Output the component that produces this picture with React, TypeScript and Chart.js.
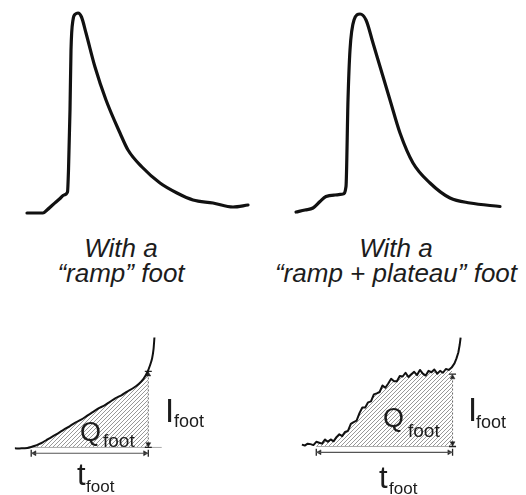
import React, { useEffect, useRef } from "react";
import { Chart, registerables } from "chart.js";

Chart.register(...registerables);

// ---- Amperometric spikes (time in ms, current in pA) ----
const rampSpikeTime = [0, 1.6, 2.0, 2.5, 2.9, 3.3, 3.7, 4.05, 4.15, 4.3, 4.4, 4.6, 4.85, 5.1, 5.45, 5.9, 6.8, 7.9, 9.3, 10.1, 11.5, 13.3, 15, 16.6, 18.6, 20.6, 22.1];
const rampSpikeCurrent = [0, 0, 0.6, 1.5, 2.2, 2.9, 3.6, 4.2, 8.6, 20.6, 32.6, 38.6, 39.8, 40, 39.2, 36, 29.2, 22.6, 16, 12.6, 9.2, 6, 4, 2.6, 2, 1.2, 1.6];

const plateauSpikeTime = [0, 0.9, 1.7, 2.4, 3.0, 3.9, 4.7, 5.0, 5.2, 5.4, 5.8, 6.4, 7.0, 7.7, 8.4, 9.4, 10.4, 11.7, 13.4, 15.4, 17.4, 20.4];
const plateauSpikeCurrent = [0, 0.4, 0.8, 2.1, 3.1, 3.4, 3.6, 5.1, 22.4, 32.4, 38.4, 39.6, 38.4, 33.8, 29.1, 22.4, 15.8, 9.8, 5.8, 2.8, 1.8, 1.1];

// ---- Foot close-ups (time in ms, current in pA) ----
const rampFootTime = [-0.85, -0.5, -0.2, 0, 0.2, 0.4, 0.6, 0.85, 1.1, 1.4, 1.7, 2.0, 2.3, 2.6, 2.9, 3.2, 3.5, 3.8, 4.1, 4.4, 4.7, 5.0, 5.3, 5.6, 5.85, 6.05, 6.2, 6.3, 6.37, 6.42];
const rampFootCurrent = [-0.1, -0.1, -0.05, 0.05, 0.18, 0.35, 0.55, 0.85, 1.15, 1.5, 1.9, 2.25, 2.65, 2.95, 3.35, 3.75, 4.15, 4.45, 4.85, 5.25, 5.55, 5.95, 6.3, 6.75, 7.3, 8.0, 8.8, 9.5, 10.4, 11.7];
const rampFootDuration = 6.1;
const rampFootAmplitude = 8.1;

const plateauFootTime = [-0.75, -0.6, -0.45, -0.3, -0.15, 0, 0.15, 0.3, 0.45, 0.6, 0.75, 0.9, 1.05, 1.2, 1.35, 1.5, 1.65, 1.8, 1.95, 2.1, 2.25, 2.4, 2.55, 2.7, 2.85, 3.0, 3.15, 3.3, 3.45, 3.6, 3.75, 3.9, 4.05, 4.2, 4.35, 4.5, 4.65, 4.8, 4.95, 5.1, 5.25, 5.4, 5.55, 5.7, 5.85, 6.0, 6.15, 6.3, 6.45, 6.6, 6.75, 6.9, 7.05, 7.2, 7.3, 7.4, 7.47, 7.52];
const plateauFootCurrent = [0.2, 0.1, 0.3, 0.25, 0.15, 0.5, 0.4, 0.3, 0.75, 0.5, 0.75, 0.55, 1.0, 1.3, 1.1, 1.55, 1.65, 2.4, 2.6, 2.75, 3.55, 4.15, 4.15, 4.7, 4.8, 5.55, 5.65, 5.8, 6.5, 6.25, 6.7, 7.2, 6.95, 6.95, 7.5, 7.45, 7.85, 7.4, 7.7, 7.95, 7.6, 8.15, 7.75, 7.55, 8.05, 7.9, 8.2, 7.75, 8.05, 7.85, 8.25, 8.15, 8.4, 8.85, 9.35, 10.0, 10.8, 11.6];
const plateauFootDuration = 7.1;
const plateauFootAmplitude = 7.7;

const SANS = '"Liberation Sans", Arial, Helvetica, sans-serif';
const INK = "#1c1c1c";

type Range = { xMin: number; xMax: number; yMin: number; yMax: number };

function baseOptions(r: Range): any {
  return {
    animation: false,
    responsive: false,
    devicePixelRatio: 1,
    events: [],
    layout: { padding: 0 },
    plugins: { legend: { display: false }, tooltip: { enabled: false } },
    elements: { point: { radius: 0 } },
    scales: {
      x: { type: "linear", display: false, min: r.xMin, max: r.xMax },
      y: { type: "linear", display: false, min: r.yMin, max: r.yMax },
    },
  };
}

function pairs(xs: number[], ys: number[]) {
  return xs.map((x, i) => ({ x, y: ys[i] }));
}

function spikeConfig(time: number[], current: number[], r: Range): any {
  return {
    type: "line",
    data: {
      datasets: [
        {
          data: pairs(time, current),
          borderColor: "#111",
          borderWidth: 3.2,
          borderCapStyle: "round",
          borderJoinStyle: "round",
          pointRadius: 0,
          cubicInterpolationMode: "monotone",
          fill: false,
        },
      ],
    },
    options: baseOptions(r),
  };
}

function hatchPattern(): CanvasPattern | string {
  const c = document.createElement("canvas");
  c.width = 4;
  c.height = 4;
  const g = c.getContext("2d");
  if (!g) return "#ccc";
  g.strokeStyle = "#8c8c8c";
  g.lineWidth = 0.9;
  g.beginPath();
  g.moveTo(0, 4);
  g.lineTo(4, 0);
  g.moveTo(-1, 1);
  g.lineTo(1, -1);
  g.moveTo(3, 5);
  g.lineTo(5, 3);
  g.stroke();
  return g.createPattern(c, "repeat") || "#ccc";
}

function footConfig(
  time: number[],
  current: number[],
  duration: number,
  amplitude: number,
  traceWidth: number,
  traceTension: number,
  baselineEnd: number,
  r: Range
): any {
  const trace = pairs(time, current);
  const area = trace.filter((p) => p.x >= 0 && p.x <= duration);
  area.push({ x: duration, y: amplitude });
  const arrowY = -0.62;
  const headOffsetX = 0.17;
  const headOffsetY = 0.35;
  return {
    type: "line",
    data: {
      datasets: [
        {
          // recorded trace
          data: trace,
          borderColor: "#111",
          borderWidth: traceWidth,
          borderJoinStyle: "round",
          pointRadius: 0,
          tension: traceTension,
          fill: false,
          order: 0,
        },
        {
          // t_foot arrow shaft
          data: [
            { x: 0, y: arrowY },
            { x: duration, y: arrowY },
          ],
          borderColor: "#555",
          borderWidth: 1.2,
          pointRadius: 0,
          fill: false,
          order: 1,
        },
        {
          // arrow heads
          data: [
            { x: headOffsetX, y: arrowY },
            { x: duration - headOffsetX, y: arrowY },
            { x: duration, y: amplitude - headOffsetY },
            { x: duration, y: headOffsetY },
          ],
          showLine: false,
          pointStyle: "triangle",
          pointRadius: 2.8,
          pointRotation: [-90, 90, 0, 180],
          pointBackgroundColor: "#222",
          pointBorderColor: "#222",
          pointBorderWidth: 0.5,
          order: 1,
        },
        {
          // end stops of both dimension markers
          data: [
            { x: 0, y: arrowY },
            { x: duration, y: arrowY },
            { x: duration, y: amplitude },
            { x: duration, y: 0 },
          ],
          showLine: false,
          pointStyle: "line",
          pointRadius: 3.5,
          pointRotation: [90, 90, 0, 0],
          pointBorderColor: "#222",
          pointBorderWidth: 1.3,
          order: 1,
        },
        {
          // I_foot dashed guide
          data: [
            { x: duration, y: 0 },
            { x: duration, y: amplitude },
          ],
          borderColor: "#666",
          borderWidth: 1,
          borderDash: [2, 2],
          pointRadius: 0,
          fill: false,
          order: 2,
        },
        {
          // baseline
          data: [
            { x: 0, y: 0 },
            { x: baselineEnd, y: 0 },
          ],
          borderColor: "#aaa",
          borderWidth: 1,
          pointRadius: 0,
          fill: false,
          order: 3,
        },
        {
          // Q_foot hatched charge
          data: area,
          borderWidth: 0,
          borderColor: "rgba(0,0,0,0)",
          backgroundColor: hatchPattern(),
          pointRadius: 0,
          tension: traceTension,
          fill: "origin",
          order: 4,
        },
      ],
    },
    options: baseOptions(r),
  };
}

type Box = { left: number; top: number; width: number; height: number };

function ChartPanel({ box, make }: { box: Box; make: () => any }) {
  const ref = useRef<HTMLCanvasElement | null>(null);
  useEffect(() => {
    if (!ref.current) return;
    const chart = new Chart(ref.current, make());
    return () => chart.destroy();
  }, []);
  return (
    <canvas
      ref={ref}
      width={box.width}
      height={box.height}
      style={{ position: "absolute", left: box.left, top: box.top, width: box.width, height: box.height }}
    />
  );
}

function Glyph({ text, left, baseline, size }: { text: string; left: number; baseline: number; size: number }) {
  return (
    <span
      style={{
        position: "absolute",
        left,
        top: baseline - 0.8465 * size,
        fontSize: size,
        lineHeight: `${size}px`,
        fontFamily: SANS,
        color: INK,
        whiteSpace: "nowrap",
      }}
    >
      {text}
    </span>
  );
}

function CaptionLine({ text, center, baseline }: { text: string; center: number; baseline: number }) {
  const size = 26;
  return (
    <div
      style={{
        position: "absolute",
        left: center - 200,
        width: 400,
        textAlign: "center",
        top: baseline - 0.8465 * size,
        fontSize: size,
        lineHeight: `${size}px`,
        fontFamily: SANS,
        fontStyle: "italic",
        color: INK,
        whiteSpace: "nowrap",
      }}
    >
      {text}
    </div>
  );
}

export default function App() {
  return (
    <div style={{ position: "absolute", left: 0, top: 0, width: 526, height: 495, background: "#fff", overflow: "hidden" }}>
      <ChartPanel
        box={{ left: 0, top: 0, width: 263, height: 230 }}
        make={() => spikeConfig(rampSpikeTime, rampSpikeCurrent, { xMin: -2.7, xMax: 23.6, yMin: -3.4, yMax: 42.6 })}
      />
      <ChartPanel
        box={{ left: 263, top: 0, width: 263, height: 230 }}
        make={() => spikeConfig(plateauSpikeTime, plateauSpikeCurrent, { xMin: -3.3, xMax: 23.0, yMin: -3.6, yMax: 42.4 })}
      />
      <ChartPanel
        box={{ left: 0, top: 320, width: 263, height: 175 }}
        make={() =>
          footConfig(rampFootTime, rampFootCurrent, rampFootDuration, rampFootAmplitude, 2, 0.25, 6.8, {
            xMin: -1.35,
            xMax: 11.8,
            yMin: -4.5,
            yMax: 13.0,
          })
        }
      />
      <ChartPanel
        box={{ left: 263, top: 320, width: 263, height: 175 }}
        make={() =>
          footConfig(plateauFootTime, plateauFootCurrent, plateauFootDuration, plateauFootAmplitude, 2, 0, 7.1, {
            xMin: -2.5,
            xMax: 10.65,
            yMin: -4.6,
            yMax: 12.9,
          })
        }
      />

      <CaptionLine text="With a" center={121} baseline={257} />
      <CaptionLine text="“ramp” foot" center={121} baseline={282} />
      <CaptionLine text="With a" center={396} baseline={257} />
      <CaptionLine text="“ramp + plateau” foot" center={396} baseline={282} />

      <Glyph text="I" left={165} baseline={422} size={33} />
      <Glyph text="foot" left={174} baseline={427} size={18} />
      <Glyph text="Q" left={80} baseline={442} size={27} />
      <Glyph text="foot" left={103} baseline={447} size={19} />
      <Glyph text="t" left={77} baseline={485} size={31} />
      <Glyph text="foot" left={86} baseline={492} size={17} />

      <Glyph text="I" left={468} baseline={421} size={33} />
      <Glyph text="foot" left={476} baseline={428} size={18} />
      <Glyph text="Q" left={383} baseline={428} size={27} />
      <Glyph text="foot" left={408} baseline={437} size={19} />
      <Glyph text="t" left={379} baseline={488} size={31} />
      <Glyph text="foot" left={389} baseline={494} size={17} />
    </div>
  );
}
